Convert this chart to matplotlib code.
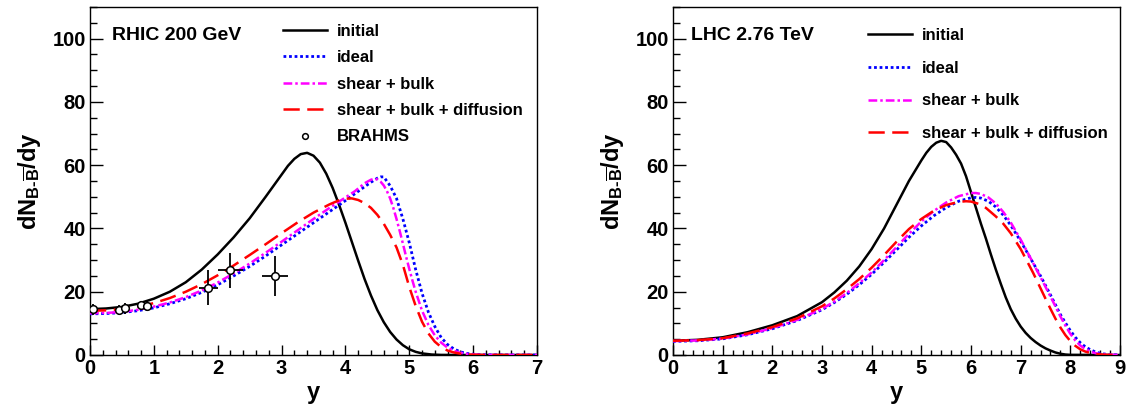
import numpy as np
import matplotlib
matplotlib.use("Agg")
import matplotlib.pyplot as plt
from matplotlib.ticker import MultipleLocator

plt.rcParams['font.family'] = ['Liberation Sans', 'DejaVu Sans']
plt.rcParams['font.weight'] = 'bold'
plt.rcParams['mathtext.fontset'] = 'custom'
plt.rcParams['mathtext.rm'] = 'Liberation Sans:bold'
plt.rcParams['mathtext.bf'] = 'Liberation Sans:bold'
plt.rcParams['mathtext.it'] = 'Liberation Sans:bold:italic'

# ---------------- RHIC 200 GeV ----------------
rhic_init_y = [0, 0.25, 0.5, 0.75, 1.0, 1.25, 1.5, 1.75, 2.0, 2.25, 2.5, 2.75, 3.0, 3.1, 3.2, 3.3, 3.4,
               3.5, 3.6, 3.7, 3.8, 3.9, 4.0, 4.1, 4.2, 4.3, 4.4, 4.5, 4.6, 4.7, 4.8, 4.9, 5.0, 5.1,
               5.2, 5.35, 5.5, 6.0, 7.0]
rhic_init_v = [14.5, 14.7, 15.2, 16.2, 17.8, 20.0, 23.0, 27.0, 31.8, 37.2, 43.2, 50.0, 57.0, 59.8, 62.0, 63.5, 63.9,
               63.0, 60.8, 57.3, 52.8, 47.5, 41.8, 35.8, 29.8, 24.0, 18.8, 14.2, 10.4, 7.3, 4.9, 3.1, 1.8, 1.0,
               0.5, 0.15, 0.03, 0, 0]

rhic_ideal_y = [0, 0.25, 0.5, 0.75, 1.0, 1.25, 1.5, 1.75, 2.0, 2.25, 2.5, 2.75, 3.0, 3.25, 3.5, 3.75, 4.0,
                4.15, 4.3, 4.4, 4.5, 4.55, 4.6, 4.7, 4.8, 4.9, 5.0, 5.1, 5.2, 5.3, 5.4, 5.5, 5.6, 5.7,
                5.8, 5.9, 6.0, 6.2, 7.0]
rhic_ideal_v = [13.0, 13.1, 13.4, 14.0, 14.9, 16.2, 17.8, 19.8, 22.2, 25.0, 28.0, 31.3, 34.8, 38.3, 41.8, 45.3, 48.8,
                51.0, 53.2, 54.6, 55.9, 56.3, 56.3, 53.5, 49.5, 43.0, 35.5, 27.0, 19.5, 13.5, 9.0, 5.5, 3.3, 1.9,
                1.0, 0.5, 0.25, 0.05, 0]

rhic_sb_y = [0, 0.25, 0.5, 0.75, 1.0, 1.25, 1.5, 1.75, 2.0, 2.25, 2.5, 2.75, 3.0, 3.25, 3.5, 3.75, 4.0,
             4.15, 4.3, 4.4, 4.45, 4.5, 4.55, 4.6, 4.65, 4.7, 4.75, 4.8, 4.85, 4.9, 4.95, 5.0, 5.05, 5.1,
             5.2, 5.3, 5.4, 5.5, 5.6, 5.7, 5.8, 5.9, 6.0, 6.2, 7.0]
rhic_sb_v = [13.2, 13.3, 13.6, 14.3, 15.3, 16.6, 18.3, 20.4, 22.9, 25.8, 28.9, 32.3, 35.8, 39.4, 43.0, 46.5, 49.8,
             51.8, 54.3, 55.4, 55.7, 55.5, 54.8, 53.6, 51.8, 49.5, 46.5, 43.0, 39.2, 35.2, 31.1, 27.2, 23.5, 20.0,
             14.0, 9.5, 6.2, 3.9, 2.3, 1.3, 0.7, 0.35, 0.15, 0.03, 0]

rhic_sbd_y = [0, 0.25, 0.5, 0.75, 1.0, 1.25, 1.5, 1.75, 2.0, 2.25, 2.5, 2.75, 3.0, 3.25, 3.5, 3.75, 3.9,
              4.0, 4.1, 4.2, 4.3, 4.4, 4.5, 4.6, 4.7, 4.8, 4.9, 5.0, 5.1, 5.2, 5.3, 5.4, 5.5, 5.6,
              5.7, 5.8, 5.9, 6.0, 6.2, 7.0]
rhic_sbd_v = [14.0, 14.1, 14.5, 15.3, 16.4, 18.0, 20.0, 22.4, 25.2, 28.3, 31.6, 35.0, 38.5, 41.9, 45.0, 47.6, 48.9,
              49.4, 49.5, 49.0, 48.0, 46.5, 44.3, 41.5, 38.0, 34.0, 28.5, 21.5, 15.5, 10.5, 6.8, 4.2, 2.5, 1.4,
              0.8, 0.4, 0.2, 0.08, 0.02, 0]

brahms_y = [0.05, 0.45, 0.55, 0.8, 0.9, 1.85, 2.2, 2.9]
brahms_v = [14.4, 14.2, 14.7, 15.7, 15.5, 21.3, 26.8, 25.0]
brahms_dv = [1.6, 1.7, 1.7, 1.5, 1.5, 5.6, 5.5, 6.4]
brahms_dy = [0.05, 0.05, 0.05, 0.05, 0.05, 0.15, 0.2, 0.2]

# ---------------- LHC 2.76 TeV ----------------
lhc_init_y = [0, 0.5, 1.0, 1.5, 2.0, 2.5, 3.0, 3.25, 3.5, 3.75, 4.0, 4.25, 4.5, 4.75, 5.0, 5.1, 5.2, 5.3,
              5.4, 5.5, 5.6, 5.7, 5.8, 5.9, 6.0, 6.1, 6.2, 6.3, 6.4, 6.5, 6.6, 6.7, 6.8, 6.9, 7.0, 7.1,
              7.2, 7.3, 7.4, 7.5, 7.6, 7.7, 7.8, 7.9, 8.0, 9.0]
lhc_init_v = [4.5, 4.8, 5.6, 7.2, 9.4, 12.3, 16.7, 19.8, 23.5, 28.0, 33.5, 40.0, 47.5, 55.0, 61.5, 63.9, 65.8, 67.1,
              67.7, 67.3, 65.6, 63.3, 60.5, 56.5, 51.5, 46.5, 41.5, 36.8, 31.8, 27.0, 22.5, 18.2, 14.5, 11.5, 9.0, 7.0,
              5.4, 4.1, 3.0, 2.1, 1.4, 0.8, 0.4, 0.15, 0.05, 0]

lhc_ideal_y = [0, 0.5, 1.0, 1.5, 2.0, 2.5, 3.0, 3.25, 3.5, 3.75, 4.0, 4.25, 4.5, 4.75, 5.0, 5.25, 5.5, 5.75,
               6.0, 6.1, 6.2, 6.35, 6.5, 6.65, 6.8, 7.0, 7.2, 7.4, 7.6, 7.8, 7.9, 8.0, 8.1, 8.2, 8.3, 8.4,
               8.5, 8.6, 8.7, 8.8, 9.0]
lhc_ideal_v = [4.3, 4.5, 5.1, 6.4, 8.3, 10.9, 14.3, 16.6, 19.2, 22.2, 25.5, 29.3, 33.2, 37.2, 40.8, 44.0, 46.6, 48.6,
               49.7, 49.8, 49.6, 48.6, 46.8, 44.2, 41.0, 36.0, 30.5, 25.0, 19.0, 12.8, 10.2, 7.7, 5.6, 3.9, 2.6, 1.7,
               1.0, 0.55, 0.28, 0.12, 0.02]

lhc_sb_y = [0, 0.5, 1.0, 1.5, 2.0, 2.5, 3.0, 3.25, 3.5, 3.75, 4.0, 4.25, 4.5, 4.75, 5.0, 5.25, 5.5, 5.75,
            6.0, 6.1, 6.2, 6.35, 6.5, 6.65, 6.8, 7.0, 7.2, 7.4, 7.6, 7.8, 7.9, 8.0, 8.1, 8.2, 8.3, 8.4,
            8.5, 8.6, 8.8, 9.0]
lhc_sb_v = [4.4, 4.6, 5.2, 6.5, 8.5, 11.1, 14.6, 16.9, 19.6, 22.7, 26.1, 30.0, 34.1, 38.3, 42.2, 45.5, 48.2, 50.2,
            51.2, 51.2, 50.9, 49.8, 47.9, 45.2, 41.9, 36.5, 30.6, 24.6, 18.5, 12.2, 9.3, 6.7, 4.6, 3.0, 1.9, 1.1,
            0.6, 0.3, 0.08, 0]

lhc_sbd_y = [0, 0.5, 1.0, 1.5, 2.0, 2.5, 3.0, 3.25, 3.5, 3.75, 4.0, 4.25, 4.5, 4.75, 5.0, 5.25, 5.5, 5.75,
             5.9, 6.0, 6.15, 6.3, 6.5, 6.65, 6.8, 7.0, 7.25, 7.5, 7.6, 7.7, 7.8, 7.9, 8.0, 8.1, 8.2, 8.3,
             8.4, 8.5, 8.7, 9.0]
lhc_sbd_v = [4.5, 4.7, 5.3, 6.8, 8.8, 11.6, 15.4, 17.9, 20.8, 24.0, 27.6, 31.6, 35.8, 39.8, 43.0, 45.6, 47.4, 48.4,
             48.6, 48.5, 47.8, 46.5, 43.8, 41.5, 38.5, 33.5, 26.0, 17.8, 14.6, 11.5, 8.7, 6.3, 4.4, 2.9, 1.8, 1.1,
             0.6, 0.3, 0.08, 0]

labels = ["initial", "ideal", "shear + bulk", "shear + bulk + diffusion", "BRAHMS"]
titles = ["RHIC 200 GeV", "LHC 2.76 TeV"]

fig = plt.figure(figsize=(11.28, 4.05), dpi=100)
W, H = 1128, 405
axL = fig.add_axes([90 / W, (H - 355) / H, 447 / W, 348 / H])
axR = fig.add_axes([673 / W, (H - 355) / H, 447 / W, 348 / H])

def style(ax, xmax):
    ax.set_xlim(0, xmax)
    ax.set_ylim(0, 110)
    ax.xaxis.set_major_locator(MultipleLocator(1))
    ax.xaxis.set_minor_locator(MultipleLocator(0.2))
    ax.yaxis.set_major_locator(MultipleLocator(20))
    ax.yaxis.set_minor_locator(MultipleLocator(5))
    ax.tick_params(axis='both', which='both', direction='in', top=False, right=False,
                   labelsize=14.5, width=1.0)
    ax.tick_params(axis='y', which='major', length=9.4, pad=3)
    ax.tick_params(axis='y', which='minor', length=5)
    ax.tick_params(axis='x', which='major', length=7.2, pad=3)
    ax.tick_params(axis='x', which='minor', length=3.6)
    for s in ax.spines.values():
        s.set_linewidth(1.0)
    for lab in ax.get_xticklabels() + ax.get_yticklabels():
        lab.set_fontweight('bold')
    ax.set_xlabel('y', fontsize=17, fontweight='bold', labelpad=2)
    ax.set_ylabel(r'$\mathrm{dN_{B\text{-}\overline{B}}/dy}$', fontsize=17, labelpad=7)

def curves(ax, data):
    (iy, iv), (dy, dv), (sy, sv), (ry, rv) = data
    ax.plot(iy, iv, color='black', lw=1.8, label=labels[0], zorder=4)
    ax.plot(dy, dv, color='blue', lw=2.0, linestyle=(0, (1, 1)), label=labels[1], zorder=4)
    ax.plot(sy, sv, color='magenta', lw=1.8, linestyle=(0, (3.5, 1.2, 1, 1.2)), label=labels[2], zorder=4)
    ax.plot(ry, rv, color='red', lw=1.8, linestyle=(0, (6.5, 3)), label=labels[3], zorder=4)

style(axL, 7)
style(axR, 9)

curves(axL, [(rhic_init_y, rhic_init_v), (rhic_ideal_y, rhic_ideal_v),
             (rhic_sb_y, rhic_sb_v), (rhic_sbd_y, rhic_sbd_v)])
axL.errorbar(brahms_y, brahms_v, yerr=brahms_dv, xerr=brahms_dy, fmt='none',
             ecolor='black', elinewidth=1.3, capsize=0, zorder=5)
axL.plot(brahms_y, brahms_v, 'o', ms=5.5, mfc='white', mec='black', mew=1.1,
         label=labels[4], zorder=6, linestyle='none')

curves(axR, [(lhc_init_y, lhc_init_v), (lhc_ideal_y, lhc_ideal_v),
             (lhc_sb_y, lhc_sb_v), (lhc_sbd_y, lhc_sbd_v)])

axL.text((112 - 90) / 447, (355 - 35) / 348, titles[0], transform=axL.transAxes,
         fontsize=14, fontweight='bold', va='center', ha='left')
axR.text((691 - 673) / 447, (355 - 35) / 348, titles[1], transform=axR.transAxes,
         fontsize=14, fontweight='bold', va='center', ha='left')

legL = axL.legend(loc='upper left', bbox_to_anchor=((283 - 90) / 447, (355 - 24) / 348),
                  frameon=False, fontsize=12, handlelength=2.65, handletextpad=0.6,
                  labelspacing=0.68, borderpad=0, borderaxespad=0, numpoints=1,
                  markerscale=0.75)
legR = axR.legend(loc='upper left', bbox_to_anchor=((868 - 673) / 447, (355 - 28) / 348),
                  frameon=False, fontsize=12, handlelength=2.65, handletextpad=0.6,
                  labelspacing=1.06, borderpad=0, borderaxespad=0, numpoints=1)
for leg in (legL, legR):
    for t in leg.get_texts():
        t.set_fontweight('bold')

fig.savefig('out.png', dpi=100)
